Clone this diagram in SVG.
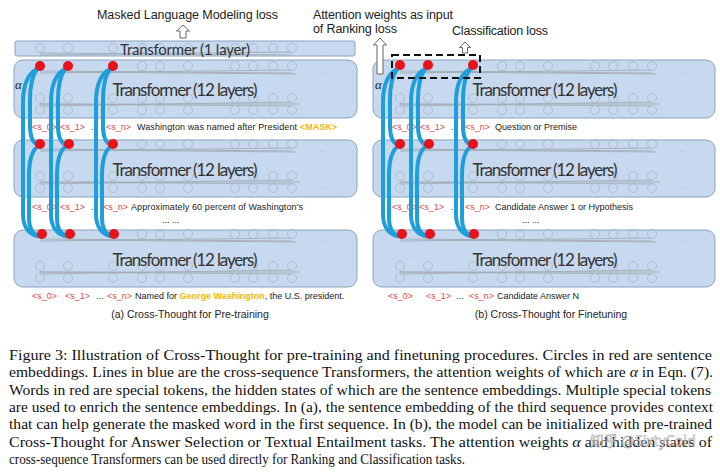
<svg xmlns="http://www.w3.org/2000/svg" xmlns:xlink="http://www.w3.org/1999/xlink" width="720" height="474" viewBox="0 0 720 474">
<style>
.box{fill:#c6d9ef;stroke:#8aa2bf;stroke-width:1}
.tt{font-family:Lato,"Open Sans",sans-serif;fill:#333;text-anchor:middle}
.lbl{font-family:"Liberation Sans",Arial,sans-serif;font-size:9px;fill:#222}
.tok{fill:#d94848}
.gold{fill:#f5b800}
.gc{fill:none;stroke:#a9b6c4;stroke-width:0.8}
.gl{stroke:#a0a8b0;stroke-width:0.8;fill:none}
.gd{font-family:"Liberation Sans",Arial,sans-serif;font-size:8px;fill:#a9b6c4}
.wd{font-family:"Liberation Sans",Arial,sans-serif;font-size:8px;fill:#eef4fb}
.blue{fill:none;stroke:#1e9fdc;stroke-width:4;stroke-linecap:round}
.red{fill:#e8121b}
.arrow{fill:#fff;stroke:#666;stroke-width:1}
.top{font-family:"Liberation Sans",Arial,sans-serif;font-size:12.5px;fill:#222}
.sub{font-family:"Liberation Sans",Arial,sans-serif;font-size:10.5px;fill:#222;text-anchor:middle}
.cap{font-family:"Liberation Serif","Times New Roman",serif;font-size:15px;fill:#111}
.alpha{font-family:"Liberation Serif",serif;font-style:italic;font-size:13px;fill:#222}
</style>
<defs>
<g id="net12">
<g class="gl">
<path d="M40,71 L292,73 M40,73 L292,70 M68,72 L296,74 M40,104 L292,106 M40,106 L292,102 M40,104 L300,104"/>
</g>
<g class="gc">
<circle cx="40" cy="66" r="4.5"/><circle cx="68" cy="66" r="4.5"/><circle cx="113" cy="66" r="4.5"/><circle cx="142" cy="66" r="4.5"/><circle cx="160" cy="66" r="4.5"/><circle cx="188" cy="66" r="4.5"/><circle cx="235" cy="66" r="4.5"/><circle cx="253" cy="66" r="4.5"/><circle cx="273" cy="66" r="4.5"/><circle cx="292" cy="66" r="4.5"/>
<circle cx="40" cy="98" r="4.5"/><circle cx="68" cy="98" r="4.5"/><circle cx="113" cy="98" r="4.5"/><circle cx="142" cy="98" r="4.5"/><circle cx="160" cy="98" r="4.5"/><circle cx="188" cy="98" r="4.5"/><circle cx="235" cy="98" r="4.5"/><circle cx="253" cy="98" r="4.5"/><circle cx="273" cy="98" r="4.5"/><circle cx="292" cy="98" r="4.5"/>
<circle cx="40" cy="110" r="4.5"/><circle cx="68" cy="110" r="4.5"/><circle cx="113" cy="110" r="4.5"/><circle cx="142" cy="110" r="4.5"/><circle cx="160" cy="110" r="4.5"/><circle cx="188" cy="110" r="4.5"/><circle cx="235" cy="110" r="4.5"/><circle cx="253" cy="110" r="4.5"/><circle cx="273" cy="110" r="4.5"/><circle cx="292" cy="110" r="4.5"/>
</g>
<text class="gd" x="318" y="74">...</text>
<text class="gd" x="318" y="110">...</text>
</g>
<g id="net1">
<path class="gl" d="M40,53 L292,55 M40,55 L292,52"/>
<g class="gc">
<circle cx="40" cy="48" r="4.5"/><circle cx="68" cy="48" r="4.5"/><circle cx="113" cy="48" r="4.5"/><circle cx="142" cy="48" r="4.5"/><circle cx="160" cy="48" r="4.5"/><circle cx="188" cy="48" r="4.5"/><circle cx="235" cy="48" r="4.5"/><circle cx="253" cy="48" r="4.5"/><circle cx="273" cy="48" r="4.5"/><circle cx="292" cy="48" r="4.5"/>
</g>
<text class="gd" x="318" y="52">...</text>
</g>
<g id="col">
<path class="blue" d="M-3,69 C-12,74 -17,86 -17,102 L-17,214 C-17,227 -11,234 -3,236"/>
<path class="blue" d="M-3,69 C-8,76 -10,88 -10,100 L-10,126 C-10,137 -7,143 -2,145"/>
<path class="blue" d="M-3,147 C-9,152 -11,163 -11,176 L-11,218 C-11,228 -7,234 -2,236"/>
</g>
</defs>

<rect width="720" height="474" fill="#fff"/>

<!-- ===== Left panel (a) ===== -->
<g id="a-mlm-label">
<text class="top" x="97" y="19" textLength="181">Masked Language Modeling loss</text>
<polygon class="arrow" points="183,25 189.5,31 186,31 186,38 180,38 180,31 176.5,31"/>
</g>
<g id="a-transformer-1layer">
<rect class="box" x="15" y="41" width="340" height="15" rx="2"/>
<use href="#net1"/>
<text class="tt" x="185" y="55" font-size="15" textLength="130">Transformer (1 layer)</text>
</g>
<g id="a-transformer-1">
<rect class="box" x="14" y="60" width="343" height="58" rx="9"/>
<use href="#net12"/>
<text class="tt" x="185" y="96" font-size="17" textLength="145">Transformer (12 layers)</text>
<text class="alpha" x="15" y="89">α</text>
</g>
<g id="a-tokens-1" class="lbl">
<text class="tok" x="32" y="130">&lt;s_0&gt;</text>
<text class="tok" x="60" y="130">&lt;s_1&gt;</text>
<text x="91" y="130">...</text>
<text class="tok" x="106" y="130">&lt;s_n&gt;</text>
<text x="137" y="130" textLength="160">Washington was named after President</text>
<text class="gold" x="300" y="130" font-weight="bold">&lt;MASK&gt;</text>
</g>
<g id="a-transformer-2">
<rect class="box" x="14" y="140" width="343" height="57" rx="9"/>
<use href="#net12" transform="translate(0,78)"/>
<text class="tt" x="185" y="176" font-size="17" textLength="145">Transformer (12 layers)</text>
</g>
<g id="a-tokens-2" class="lbl">
<text class="tok" x="32" y="210">&lt;s_0&gt;</text>
<text class="tok" x="60" y="210">&lt;s_1&gt;</text>
<text x="91" y="210">...</text>
<text class="tok" x="103" y="210">&lt;s_n&gt;</text>
<text x="131" y="210" textLength="172">Approximately 60 percent of Washington's</text>
<text x="162" y="223">... ...</text>
</g>
<g id="a-transformer-3">
<rect class="box" x="14" y="230" width="343" height="57" rx="9"/>
<use href="#net12" transform="translate(0,168)"/>
<text class="wd" x="50" y="264">...</text>
<text class="tt" x="185" y="266" font-size="17" textLength="145">Transformer (12 layers)</text>
</g>
<g id="a-tokens-3" class="lbl">
<text class="tok" x="32" y="299">&lt;s_0&gt;</text>
<text class="tok" x="65" y="299">&lt;s_1&gt;</text>
<text x="96" y="299">...</text>
<text class="tok" x="107" y="299">&lt;s_n&gt;</text>
<text x="135" y="299">Named for <tspan class="gold" font-weight="bold">George Washington</tspan>, the U.S. president.</text>
</g>
<text id="a-caption" class="sub" x="190" y="318">(a) Cross-Thought for Pre-training</text>

<!-- ===== Right panel (b) ===== -->
<g id="b-rank-label">
<text class="top" x="313" y="19" textLength="140">Attention weights as input</text>
<text class="top" x="313" y="33" textLength="84">of Ranking loss</text>
</g>
<g id="b-class-label">
<text class="top" x="452" y="35" textLength="96">Classification loss</text>
<polygon class="arrow" points="465,42 470.5,47.5 467.5,47.5 467.5,53 462.5,53 462.5,47.5 459.5,47.5"/>
</g>
<g id="b-transformer-1">
<rect class="box" x="373" y="60" width="342" height="58" rx="9"/>
<use href="#net12" transform="translate(360,0)"/>
<text class="tt" x="545" y="96" font-size="17" textLength="145">Transformer (12 layers)</text>
<text class="alpha" x="375" y="89">α</text>
</g>
<g id="b-tokens-1" class="lbl">
<text class="tok" x="392" y="130">&lt;s_0&gt;</text>
<text class="tok" x="420" y="130">&lt;s_1&gt;</text>
<text x="451" y="130">...</text>
<text class="tok" x="465" y="130">&lt;s_n&gt;</text>
<text x="495" y="130">Question or Premise</text>
</g>
<g id="b-transformer-2">
<rect class="box" x="373" y="140" width="342" height="57" rx="9"/>
<use href="#net12" transform="translate(360,78)"/>
<text class="wd" x="410" y="174">...</text>
<text class="tt" x="545" y="176" font-size="17" textLength="145">Transformer (12 layers)</text>
</g>
<g id="b-tokens-2" class="lbl">
<text class="tok" x="392" y="210">&lt;s_0&gt;</text>
<text class="tok" x="419" y="210">&lt;s_1&gt;</text>
<text x="451" y="210">...</text>
<text class="tok" x="465" y="210">&lt;s_n&gt;</text>
<text x="495" y="210">Candidate Answer 1 or Hypothesis</text>
<text x="522" y="223">... ...</text>
</g>
<g id="b-transformer-3">
<rect class="box" x="373" y="230" width="342" height="57" rx="9"/>
<use href="#net12" transform="translate(360,168)"/>
<text class="wd" x="410" y="264">...</text>
<text class="tt" x="545" y="266" font-size="17" textLength="145">Transformer (12 layers)</text>
</g>
<g id="b-tokens-3" class="lbl">
<text class="tok" x="388" y="299">&lt;s_0&gt;</text>
<text class="tok" x="426" y="299">&lt;s_1&gt;</text>
<text x="456" y="299">...</text>
<text class="tok" x="469" y="299">&lt;s_n&gt;</text>
<text x="497" y="299">Candidate Answer N</text>
</g>
<text id="b-caption" class="sub" x="551" y="318">(b) Cross-Thought for Finetuning</text>

<!-- ===== Connectors (cross-sequence Transformers) ===== -->
<g id="connectors">
<use href="#col" x="40"/>
<use href="#col" x="68"/>
<use href="#col" x="113"/>
<use href="#col" x="400"/>
<use href="#col" x="428"/>
<use href="#col" x="473"/>
</g>

<!-- ===== Sentence embeddings (red dots) ===== -->
<g id="embeddings" class="red">
<circle cx="40" cy="66" r="5"/><circle cx="68" cy="66" r="5"/><circle cx="113" cy="66" r="5"/>
<circle cx="40" cy="144" r="5"/><circle cx="69" cy="144" r="5"/><circle cx="113" cy="144" r="5"/>
<circle cx="42" cy="234" r="5"/><circle cx="70" cy="234" r="5"/><circle cx="114" cy="234" r="5"/>
<circle cx="400" cy="65" r="5"/><circle cx="428" cy="65" r="5"/><circle cx="473" cy="65" r="5"/>
<circle cx="400" cy="144" r="5"/><circle cx="429" cy="144" r="5"/><circle cx="473" cy="144" r="5"/>
<circle cx="402" cy="234" r="5"/><circle cx="430" cy="234" r="5"/><circle cx="474" cy="234" r="5"/>
</g>

<g id="b-rank-arrow">
<polygon class="arrow" points="380,38 386.5,45 383,45 383,74 377,74 377,45 373.5,45"/>
</g>
<rect id="b-dashed" x="392" y="55" width="88" height="23" fill="none" stroke="#111" stroke-width="2" stroke-dasharray="7 4"/>

<!-- ===== Figure caption ===== -->
<g id="caption" class="cap">
<text x="9" y="360" textLength="703" lengthAdjust="spacingAndGlyphs">Figure 3: Illustration of Cross-Thought for pre-training and finetuning procedures.  Circles in red are sentence</text>
<text x="9" y="377" textLength="704" lengthAdjust="spacingAndGlyphs">embeddings. Lines in blue are the cross-sequence Transformers, the attention weights of which are <tspan font-style="italic">α</tspan> in Eqn. (7).</text>
<text x="9" y="394.5" textLength="702" lengthAdjust="spacingAndGlyphs">Words in red are special tokens, the hidden states of which are the sentence embeddings. Multiple special tokens</text>
<text x="9" y="412" textLength="704" lengthAdjust="spacingAndGlyphs">are used to enrich the sentence embeddings. In (a), the sentence embedding of the third sequence provides context</text>
<text x="9" y="429" textLength="703" lengthAdjust="spacingAndGlyphs">that can help generate the masked word in the first sequence. In (b), the model can be initialized with pre-trained</text>
<text x="9" y="446.5" textLength="703" lengthAdjust="spacingAndGlyphs">Cross-Thought for Answer Selection or Textual Entailment tasks.  The attention weights <tspan font-style="italic">α</tspan> and hidden states of</text>
<text x="9" y="464" textLength="456" lengthAdjust="spacingAndGlyphs">cross-sequence Transformers can be used directly for Ranking and Classification tasks.</text>
</g>
<text id="watermark" x="590" y="446" font-family="'Noto Sans CJK SC','Liberation Sans',sans-serif" font-size="14" fill="#fff" fill-opacity="0.6" stroke="#9a9a9a" stroke-width="0.5">知乎 @SixtyCold</text>
</svg>
